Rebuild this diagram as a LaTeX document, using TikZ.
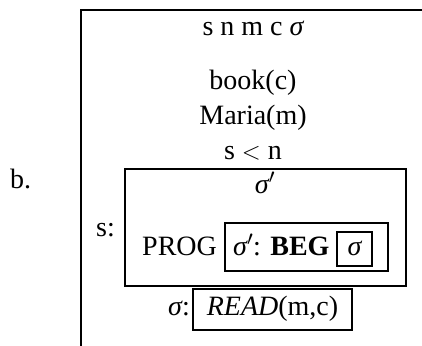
\documentclass[tikz,border=0pt]{standalone}
\usepackage{fontspec}
\setmainfont{Liberation Serif}
\newcommand{\sg}{{\itshape σ}}
\begin{document}
\begin{tikzpicture}[x=1pt,y=-1pt,
  txt/.style={font=\fontsize{28}{33}\selectfont, inner sep=0pt, anchor=base},
  ln/.style={line width=1.9pt}]
\useasboundingbox (0,0) rectangle (422,345);
% outer DRS box (clipped at right and bottom)
\draw[ln] (81,346) -- (81,10) -- (423,10);
\node[txt, anchor=base west] (b) at (10,188) {b.};
% universe and conditions
\node[txt] (univ) at (253,36) {s n m c \sg};
\node[txt] (c1) at (253,89) {book(c)};
\node[txt] (c2) at (253,124) {Maria(m)};
\node[txt] (c3) at (253,159) {s $<$ n};
% embedded box s
\draw[ln] (125,169) rectangle (406,286);
\node[txt] (sp) at (265,193) {\sg$'$};
\node[txt, anchor=base east] (slab) at (115,236) {s:};
\node[txt, anchor=base west] (prog) at (142,255) {PROG};
\draw[ln] (225,223) rectangle (388,271);
\node[txt, anchor=base west] (beg) at (233,255) {\sg$'$: \textbf{BEG}};
\draw[ln] (337,232) rectangle (372,266);
\node[txt] (sig) at (354.5,255) {\sg};
% sigma: READ
\node[txt, anchor=base east] (slab2) at (190,315) {\sg:};
\draw[ln] (193,289) rectangle (352,330);
\node[txt] (read) at (272.5,315) {\textit{READ}(m,c)};
\end{tikzpicture}
\end{document}
